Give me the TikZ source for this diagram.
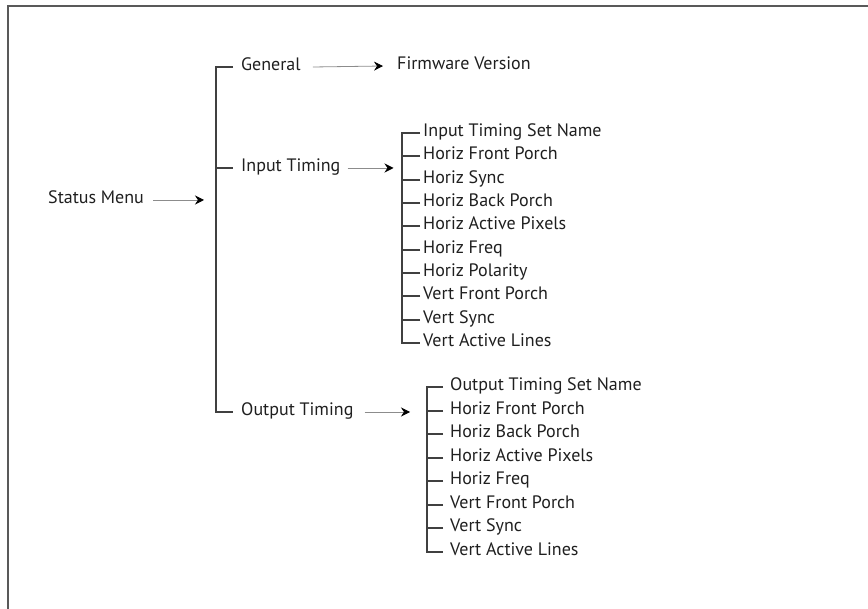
\documentclass[tikz,border=0pt]{standalone}
\usepackage{fontspec}
\setmainfont{PT Sans}
\usetikzlibrary{arrows.meta, positioning}

\tikzset{
  item/.style={anchor=west, inner sep=0pt, text height=0.7em, text depth=0pt,
    text=black!88, font=\fontsize{18}{21}\selectfont},
  bracket/.style={draw=black!75, line width=1.5pt},
  arr/.style={draw=black!45, line width=0.8pt,
    -{Stealth[black, length=9pt, width=9pt, inset=3pt]}}
}

\begin{document}
\begin{tikzpicture}[x=1pt, y=-1pt]
  \useasboundingbox (0,0) rectangle (868,609);
  % frame
  \draw[black!65, line width=2pt] (8,609) -- (8,6) -- (868,6);

  % main menu
  \node[item] (sm) at (48,200) {Status Menu};
  \node[item] (gen) at (241,67) {General};
  \node[item] (it) at (241,168) {Input Timing};
  \node[item] (ot) at (241,412) {Output Timing};
  \node[item] (fw) at (397,66) {Firmware Version};
  \coordinate (mbr) at (217,200);
  \coordinate (inbr) at (402.5,168);
  \coordinate (outbr) at (427,412);

  \draw[bracket] ([xshift=-8pt]gen.west) -- ++(-17,0) |- ([xshift=-8pt]ot.west);
  \draw[bracket] ([xshift=-25pt]it.west) -- ([xshift=-8pt]it.west);

  \draw[arr] ([xshift=9pt]sm.east) -- ([xshift=-13pt]mbr);
  \draw[arr] ([xshift=12pt]gen.east) -- ([xshift=-14pt]fw.west);
  \draw[arr] ([xshift=7pt]it.east) -- ([xshift=-9pt]inbr);
  \draw[arr] ([xshift=11pt]ot.east) -- ([xshift=-17pt]outbr);

  % input timing list
  \foreach \txt [count=\i from 0] in {Input Timing Set Name, Horiz Front Porch,
      Horiz Sync, Horiz Back Porch, Horiz Active Pixels, Horiz Freq,
      Horiz Polarity, Vert Front Porch, Vert Sync, Vert Active Lines}
    \node[item] (in\i) at (423,{round(133+23.33*\i)}) {\txt};
  \draw[bracket] ([xshift=-3pt]in0.west) -- ++(-18,0) |- ([xshift=-3pt]in9.west);
  \foreach \i in {1,...,8}
    \draw[bracket] ([xshift=-3pt]in\i.west) -- ++(-18,0);

  % output timing list
  \foreach \txt [count=\i from 0] in {Output Timing Set Name, Horiz Front Porch,
      Horiz Back Porch, Horiz Active Pixels, Horiz Freq, Vert Front Porch,
      Vert Sync, Vert Active Lines}
    \node[item] (out\i) at (450,{round(387+23.57*\i)}) {\txt};
  \draw[bracket] ([xshift=-7pt]out0.west) -- ++(-16,0) |- ([xshift=-7pt]out7.west);
  \foreach \i in {1,...,6}
    \draw[bracket] ([xshift=-7pt]out\i.west) -- ++(-16,0);
\end{tikzpicture}
\end{document}
